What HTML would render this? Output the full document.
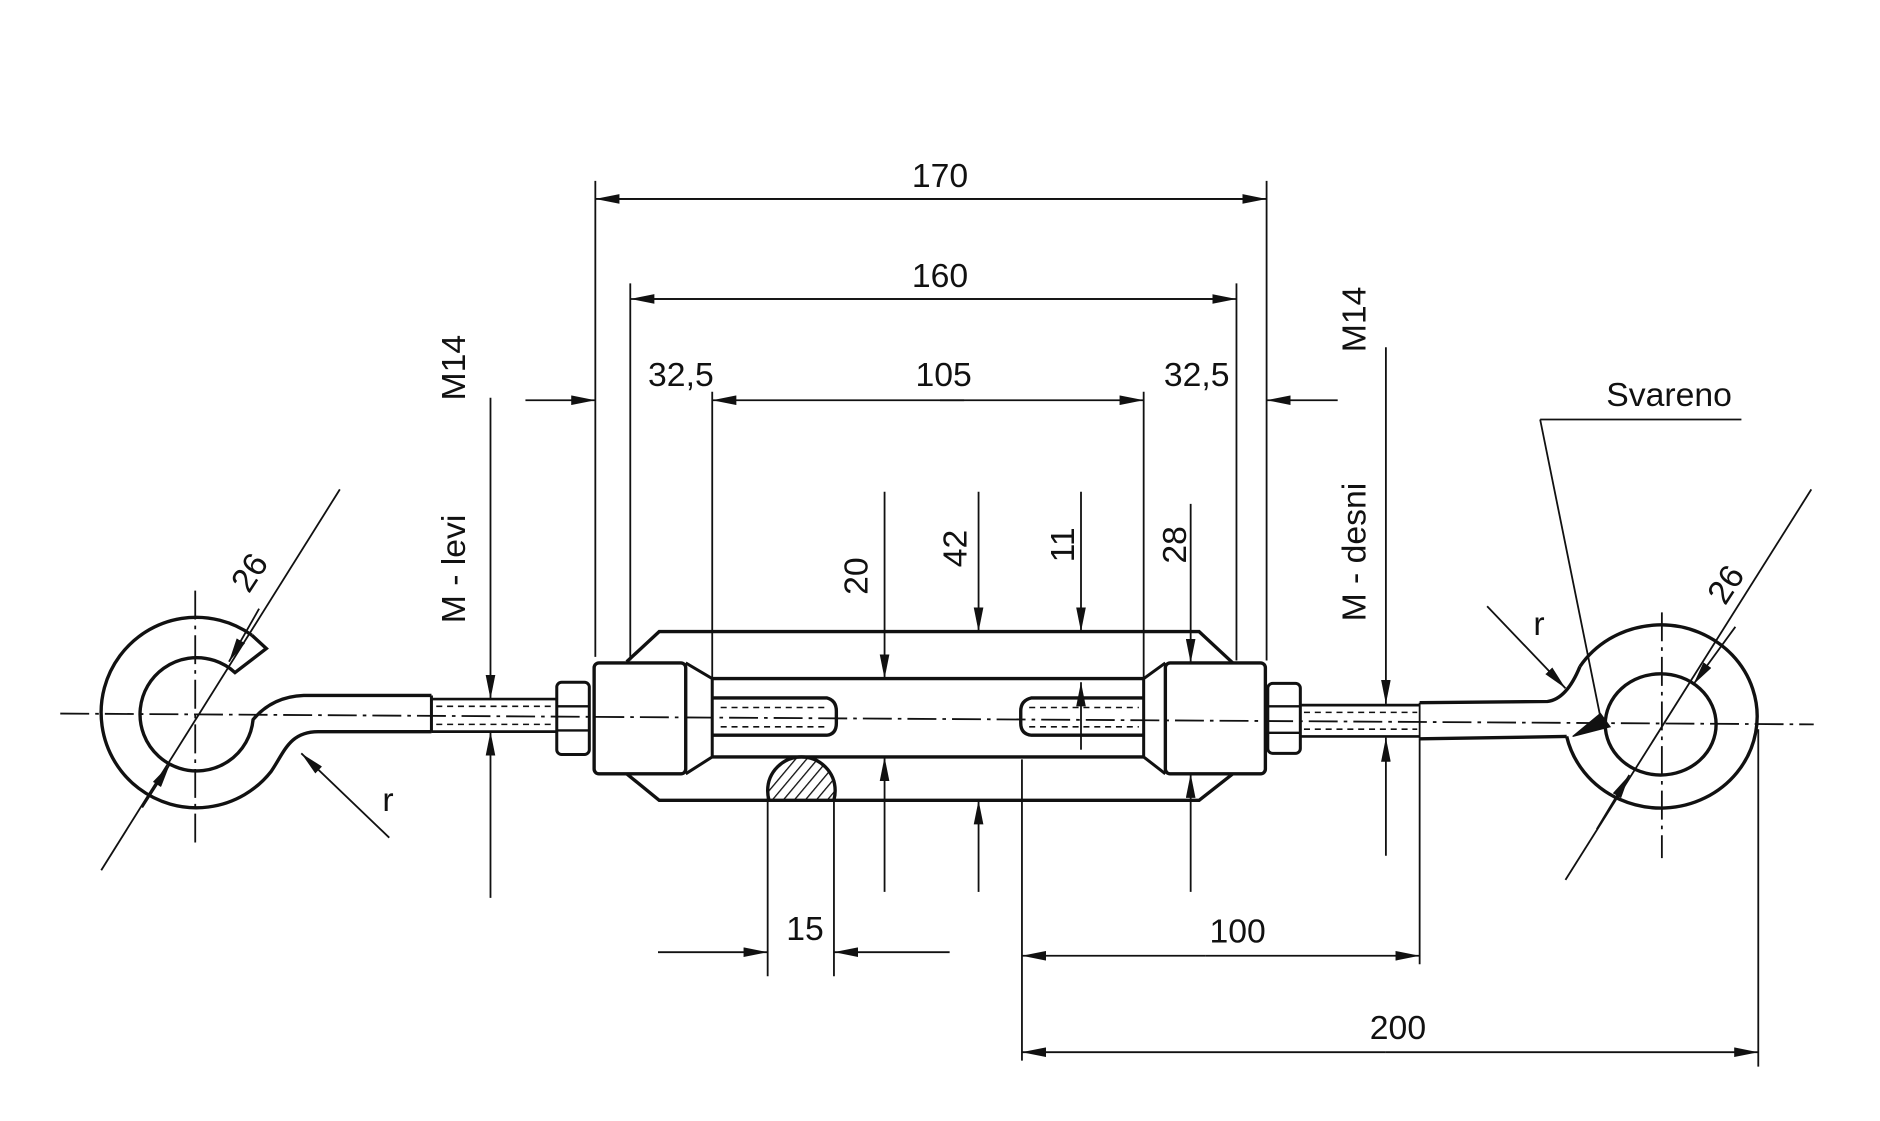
<!DOCTYPE html>
<html><head><meta charset="utf-8"><style>
html,body{margin:0;padding:0;background:#fff;}
svg{display:block;}
text{font-family:"Liberation Sans",sans-serif;font-size:28px;fill:#111;}
</style></head><body>
<svg width="1880" height="1121" viewBox="0 0 1560 930" xmlns="http://www.w3.org/2000/svg">
<defs>
<marker id="a" viewBox="0 0 20 8" refX="20" refY="4" markerWidth="20" markerHeight="8" markerUnits="userSpaceOnUse" orient="auto">
<path d="M0,0 L20,4 L0,8 z" fill="#111"/></marker>
<pattern id="h" width="7" height="7" patternUnits="userSpaceOnUse" patternTransform="rotate(40)">
<line x1="0" y1="0" x2="0" y2="7" stroke="#111" stroke-width="2.2"/></pattern>
<clipPath id="cc"><rect x="600" y="600" width="120" height="64"/></clipPath>
</defs>
<g stroke="#111" stroke-width="2" fill="none">
<line x1="50" y1="592" x2="1505" y2="601" stroke-dasharray="24,5,3,5" stroke-width="1.5"/>
<line x1="162" y1="490" x2="162" y2="700" stroke-dasharray="24,5,3,5" stroke-width="1.5"/>
<line x1="1379" y1="508" x2="1379" y2="712" stroke-dasharray="24,5,3,5" stroke-width="1.5"/>
<!-- left hook -->
<path d="M209,527 A79,79 0 1 0 225,640 C236,624 240,607 264,607 L358,607" stroke-width="2.8"/>
<path d="M209,527 L221,538 L195,558 A47,47 0 1 0 210,597 Q226,578 252,577 L358,577" stroke-width="2.8"/>
<line x1="358" y1="577" x2="358" y2="607" stroke-width="2.5"/>
<line x1="358" y1="580" x2="462" y2="580" stroke-width="2.2"/>
<line x1="358" y1="607" x2="462" y2="607" stroke-width="2.2"/>
<line x1="362" y1="586" x2="460" y2="586" stroke-dasharray="5,4" stroke-width="1.3"/>
<line x1="362" y1="601" x2="460" y2="601" stroke-dasharray="5,4" stroke-width="1.3"/>
<rect x="462" y="566" width="27" height="60" rx="4" stroke-width="2.5"/>
<line x1="462" y1="586" x2="489" y2="586"/><line x1="462" y1="606" x2="489" y2="606"/>
<!-- body frame -->
<path d="M520,549 L547,524 L995,524 L1023,550" stroke-width="2.8"/>
<path d="M520,642 L547,664 L995,664 L1023,642" stroke-width="2.8"/>
<line x1="591" y1="563" x2="949" y2="563" stroke-width="2.8"/>
<line x1="591" y1="628" x2="949" y2="628" stroke-width="2.8"/>
<rect x="493" y="550" width="76" height="92" rx="4" stroke-width="2.8"/>
<path d="M569,550 L591,563 L591,628 L569,642" stroke-width="2.5"/>
<rect x="967" y="550" width="83" height="92" rx="4" stroke-width="2.8"/>
<path d="M967,550 L949,563 L949,628 L967,642" stroke-width="2.5"/>
<rect x="1052" y="567" width="27" height="58" rx="4" stroke-width="2.5"/>
<line x1="1052" y1="586" x2="1079" y2="586"/><line x1="1052" y1="608" x2="1079" y2="608"/>
<path d="M591,579 L686,579 Q694,581 694,590 L694,600 Q694,609 686,610 L591,610" stroke-width="2.8"/>
<path d="M949,579 L856,579 Q847,581 847,590 L847,600 Q847,609 856,610 L949,610" stroke-width="2.8"/>
<line x1="598" y1="587" x2="688" y2="587" stroke-dasharray="5,4" stroke-width="1.3"/>
<line x1="598" y1="603" x2="688" y2="603" stroke-dasharray="5,4" stroke-width="1.3"/>
<line x1="854" y1="587" x2="945" y2="587" stroke-dasharray="5,4" stroke-width="1.3"/>
<line x1="854" y1="603" x2="945" y2="603" stroke-dasharray="5,4" stroke-width="1.3"/>
<circle cx="665" cy="656" r="28" fill="url(#h)" stroke-width="2.8" clip-path="url(#cc)"/>
<!-- right rod -->
<line x1="1079" y1="585" x2="1178" y2="585" stroke-width="2.2"/>
<line x1="1079" y1="611" x2="1178" y2="611" stroke-width="2.2"/>
<line x1="1082" y1="591" x2="1176" y2="591" stroke-dasharray="5,4" stroke-width="1.3"/>
<line x1="1082" y1="605" x2="1176" y2="605" stroke-dasharray="5,4" stroke-width="1.3"/>
<line x1="1178" y1="583" x2="1178" y2="613" stroke-width="1.5"/>
<path d="M1178,583 L1284,582 Q1300,580 1311,553" stroke-width="2.8"/>
<path d="M1178,613 L1300,611" stroke-width="2.8"/>
<path d="M1305,611 L1328,592 L1336,603 z" fill="#111" stroke-width="1"/>
<path d="M1311,553 A80,76 0 1 1 1300,611" stroke-width="2.8"/>
<ellipse cx="1378" cy="601" rx="46" ry="42" stroke-width="2.8"/>
<line x1="84" y1="722" x2="282" y2="406" stroke-width="1.5"/>
<line x1="1299" y1="730" x2="1503" y2="406" stroke-width="1.5"/>
<g stroke-width="1.5">
<line x1="215" y1="505" x2="190" y2="549" marker-end="url(#a)"/>
<line x1="118" y1="670" x2="141" y2="634" marker-end="url(#a)"/>
<line x1="1440" y1="520" x2="1405" y2="568" marker-end="url(#a)"/>
<line x1="1325" y1="688" x2="1352" y2="643" marker-end="url(#a)"/>
</g>
<g stroke-width="1.5">
<line x1="494" y1="150" x2="494" y2="545"/><line x1="1051" y1="150" x2="1051" y2="548"/>
<line x1="523" y1="235" x2="523" y2="548"/><line x1="1026" y1="235" x2="1026" y2="548"/>
<line x1="591" y1="325" x2="591" y2="578"/><line x1="949" y1="325" x2="949" y2="575"/>
<line x1="510" y1="165" x2="1051" y2="165" marker-end="url(#a)"/><line x1="1035" y1="165" x2="494" y2="165" marker-end="url(#a)"/>
<line x1="540" y1="248" x2="1026" y2="248" marker-end="url(#a)"/><line x1="1010" y1="248" x2="523" y2="248" marker-end="url(#a)"/>
<line x1="436" y1="332" x2="494" y2="332" marker-end="url(#a)"/>
<line x1="1110" y1="332" x2="1051" y2="332" marker-end="url(#a)"/>
<line x1="800" y1="332" x2="591" y2="332" marker-end="url(#a)"/><line x1="780" y1="332" x2="949" y2="332" marker-end="url(#a)"/>
<line x1="407" y1="330" x2="407" y2="580" marker-end="url(#a)"/><line x1="407" y1="745" x2="407" y2="607" marker-end="url(#a)"/>
<line x1="1150" y1="288" x2="1150" y2="584" marker-end="url(#a)"/><line x1="1150" y1="710" x2="1150" y2="612" marker-end="url(#a)"/>
<line x1="734" y1="408" x2="734" y2="563" marker-end="url(#a)"/><line x1="734" y1="740" x2="734" y2="628" marker-end="url(#a)"/>
<line x1="812" y1="408" x2="812" y2="524" marker-end="url(#a)"/><line x1="812" y1="740" x2="812" y2="664" marker-end="url(#a)"/>
<line x1="897" y1="408" x2="897" y2="524" marker-end="url(#a)"/><line x1="897" y1="622" x2="897" y2="566" marker-end="url(#a)"/>
<line x1="988" y1="418" x2="988" y2="550" marker-end="url(#a)"/><line x1="988" y1="740" x2="988" y2="642" marker-end="url(#a)"/>
<line x1="637" y1="660" x2="637" y2="810"/><line x1="692" y1="660" x2="692" y2="810"/>
<line x1="546" y1="790" x2="637" y2="790" marker-end="url(#a)"/><line x1="788" y1="790" x2="692" y2="790" marker-end="url(#a)"/>
<line x1="848" y1="630" x2="848" y2="880"/><line x1="1178" y1="613" x2="1178" y2="800"/>
<line x1="1459" y1="605" x2="1459" y2="885"/>
<line x1="1000" y1="793" x2="848" y2="793" marker-end="url(#a)"/><line x1="1000" y1="793" x2="1178" y2="793" marker-end="url(#a)"/>
<line x1="1150" y1="873" x2="848" y2="873" marker-end="url(#a)"/><line x1="1150" y1="873" x2="1459" y2="873" marker-end="url(#a)"/>
<line x1="1278" y1="348" x2="1445" y2="348"/><line x1="1278" y1="348" x2="1328" y2="595"/>
<line x1="323" y1="695" x2="250" y2="625" marker-end="url(#a)"/>
<line x1="1234" y1="503" x2="1299" y2="571" marker-end="url(#a)"/>
</g>
</g>
<text x="780" y="155" text-anchor="middle">170</text>
<text x="780" y="238" text-anchor="middle">160</text>
<text x="565" y="320" text-anchor="middle">32,5</text>
<text x="783" y="320" text-anchor="middle">105</text>
<text x="993" y="320" text-anchor="middle">32,5</text>
<text x="668" y="780" text-anchor="middle">15</text>
<text x="1027" y="782" text-anchor="middle">100</text>
<text x="1160" y="862" text-anchor="middle">200</text>
<text x="1385" y="337" text-anchor="middle">Svareno</text>
<text x="322" y="673" text-anchor="middle">r</text>
<text x="1277" y="527" text-anchor="middle">r</text>
<text transform="translate(386,305) rotate(-90)" text-anchor="middle">M14</text>
<text transform="translate(386,472) rotate(-90)" text-anchor="middle">M - levi</text>
<text transform="translate(1133,265) rotate(-90)" text-anchor="middle">M14</text>
<text transform="translate(1133,458) rotate(-90)" text-anchor="middle">M - desni</text>
<text transform="translate(720,478) rotate(-90)" text-anchor="middle">20</text>
<text transform="translate(802,455) rotate(-90)" text-anchor="middle">42</text>
<text transform="translate(891,452) rotate(-90)" text-anchor="middle">11</text>
<text transform="translate(984,452) rotate(-90)" text-anchor="middle">28</text>
<text transform="translate(215,480) rotate(-57)" text-anchor="middle">26</text>
<text transform="translate(1440,490) rotate(-57)" text-anchor="middle">26</text>
</svg>
</body></html>
